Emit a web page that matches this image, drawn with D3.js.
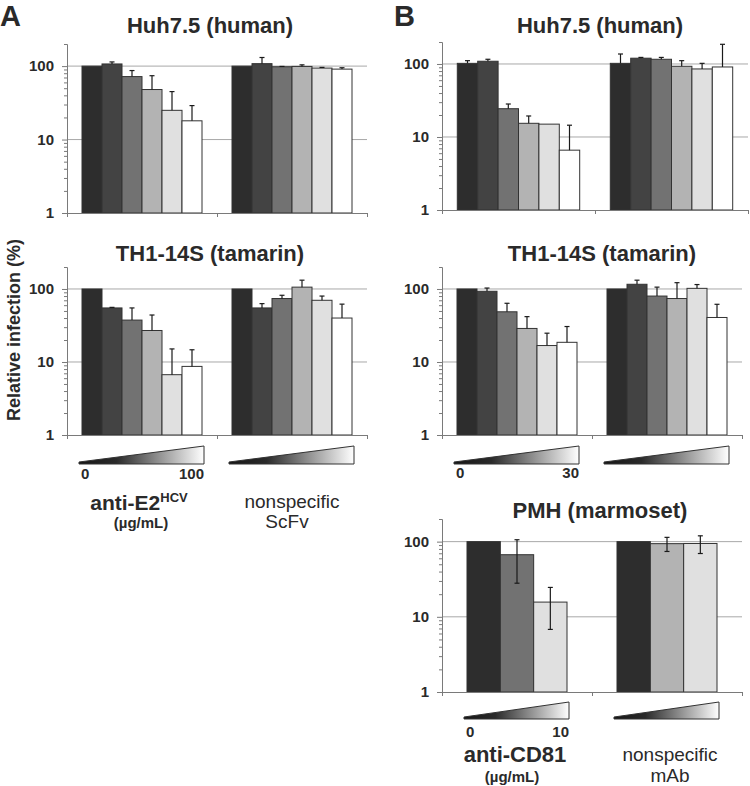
<!DOCTYPE html>
<html><head><meta charset="utf-8">
<script src="https://cdn.jsdelivr.net/npm/d3@7"></script>
<style>body{margin:0;background:#fff} svg{display:block;font-family:"Liberation Sans",Arial,sans-serif}</style>
</head><body>
<svg id="chart" width="750" height="786"></svg>
<script>
// ---------------- DATA ----------------
const groups = ["specific", "nonspecific"];
const doses6 = ["d0", "d1", "d2", "d3", "d4", "d5"];
const doses3 = ["d0", "d1", "d2"];
const yMajorTicks = [1, 10, 100];
const yMinorTicks = [2,3,4,5,6,7,8,9,20,30,40,50,60,70,80,90,200];

// Panel A, Huh7.5 (anti-E2 ScFv / nonspecific ScFv)
const aHuhSpec    = [100, 107, 72, 48, 25, 18];
const aHuhSpecErr = [0, 7, 15, 26, 20, 11];
const aHuhNon     = [100, 108, 98, 99, 94, 91];
const aHuhNonErr  = [0, 23, 1, 5, 2, 4];
// Panel A, TH1-14S
const aThSpec     = [100, 55, 37.5, 27, 6.7, 8.7];
const aThSpecErr  = [0, 1, 17.5, 17, 8.4, 6];
const aThNon      = [100, 55, 74, 106, 70, 40];
const aThNonErr   = [0, 8, 8, 26, 10, 22];
// Panel B, Huh7.5 (anti-CD81 / nonspecific mAb)
const bHuhSpec    = [102, 109, 24.4, 15.4, 15, 6.6];
const bHuhSpecErr = [9, 7, 3.9, 4, 0, 7.9];
const bHuhNon     = [102, 120, 116, 93, 85.5, 91];
const bHuhNonErr  = [35, 3, 7, 18, 16.5, 95];
// Panel B, TH1-14S
const bThSpec     = [100, 93, 48.7, 28.8, 16.8, 18.6];
const bThSpecErr  = [0, 10, 15, 13, 8, 12];
const bThNon      = [100, 116, 80, 74, 102, 40.7];
const bThNonErr   = [0, 16, 26, 48, 13, 21];
// Panel B, PMH (marmoset)
const pmhSpec     = [100, 67, 15.7];
const pmhSpecErr  = [0, 39, 8.9];
const pmhNon      = [100, 94, 94.5];
const pmhNonErr   = [0, 20, 25];

const titles = ["Huh7.5 (human)", "TH1-14S (tamarin)", "Huh7.5 (human)", "TH1-14S (tamarin)", "PMH (marmoset)"];
const doseMaxLabels = ["100", "30", "10"];

// ---------------- STYLE ----------------
const shades6 = ["#2d2d2d", "#434343", "#727272", "#b3b3b3", "#e0e0e0", "#ffffff"];
const pmhSpecShades = ["#2d2d2d", "#727272", "#e0e0e0"];
const pmhNonShades  = ["#2d2d2d", "#b3b3b3", "#e0e0e0"];
const textColor = "#2a2a2a";

const svg = d3.select("#chart");
const defs = svg.append("defs");
const grad = defs.append("linearGradient").attr("id", "wedge").attr("x1", "0%").attr("x2", "100%").attr("y1", "0%").attr("y2", "0%");
grad.append("stop").attr("offset", "0%").attr("stop-color", "#151515");
grad.append("stop").attr("offset", "30%").attr("stop-color", "#2a2a2a");
grad.append("stop").attr("offset", "100%").attr("stop-color", "#ffffff");

const panels = [
  {title: titles[0], x0: 67,  x1: 367, yB: 213, yT: 44,  tx: 210, ty: 33,  doses: doses6, values: [aHuhSpec, aHuhNon], errs: [aHuhSpecErr, aHuhNonErr], colors: [shades6, shades6], two: false, pi: 0.2, po: 0.1},
  {title: titles[1], x0: 67,  x1: 367, yB: 435, yT: 267, tx: 210, ty: 261, doses: doses6, values: [aThSpec, aThNon],   errs: [aThSpecErr, aThNonErr],   colors: [shades6, shades6], two: false, pi: 0.2, po: 0.1,
   wedge: {yb: 464, yt: 446, max: doseMaxLabels[0], ly: 479}},
  {title: titles[2], x0: 442, x1: 748, yB: 210, yT: 42,  tx: 600, ty: 33,  doses: doses6, values: [bHuhSpec, bHuhNon], errs: [bHuhSpecErr, bHuhNonErr], colors: [shades6, shades6], two: false, pi: 0.2, po: 0.1},
  {title: titles[3], x0: 442, x1: 742, yB: 435, yT: 267, tx: 602, ty: 261, doses: doses6, values: [bThSpec, bThNon],   errs: [bThSpecErr, bThNonErr],   colors: [shades6, shades6], two: false, pi: 0.2, po: 0.1,
   wedge: {yb: 464, yt: 446, max: doseMaxLabels[1], ly: 478}},
  {title: titles[4], x0: 442, x1: 742, yB: 692, yT: 519, tx: 600, ty: 518, doses: doses3, values: [pmhSpec, pmhNon],   errs: [pmhSpecErr, pmhNonErr],   colors: [pmhSpecShades, pmhNonShades], two: true, pi: 1/3, po: 1/6,
   wedge: {yb: 719, yt: 702, max: doseMaxLabels[2], ly: 737}}
];

panels.forEach(p => {
  const g = svg.append("g");
  const y = d3.scaleLog().domain([1, 200]).range([p.yB, p.yT]);
  const xg = d3.scaleBand().domain(groups).range([p.x0, p.x1]).paddingInner(p.pi).paddingOuter(p.po);
  const xb = d3.scaleBand().domain(p.doses).range([0, xg.bandwidth()]);
  const xs = d3.scaleLinear().domain([0, groups.length]).range([p.x0, p.x1]);

  g.append("text").attr("x", p.tx).attr("y", p.ty).attr("text-anchor", "middle")
    .attr("font-size", 22).attr("font-weight", "bold").attr("fill", textColor).text(p.title);

  g.selectAll(".grid").data([10, 100]).join("line")
    .attr("x1", p.x0).attr("x2", p.x1).attr("y1", d => y(d)).attr("y2", d => y(d))
    .attr("stroke", "#a8a8a8").attr("stroke-width", 1);

  groups.forEach((grp, gi) => {
    const vals = p.values[gi], errs = p.errs[gi], cols = p.colors[gi];
    g.append("g").selectAll("rect").data(vals).join("rect")
      .attr("x", (d, i) => xg(grp) + xb(p.doses[i]))
      .attr("y", d => y(d))
      .attr("width", xb.bandwidth())
      .attr("height", d => y(1) - y(d))
      .attr("fill", (d, i) => cols[i])
      .attr("stroke", "#333").attr("stroke-width", 1);
    const eg = g.append("g").attr("stroke", "#1a1a1a").attr("stroke-width", 1.2);
    vals.forEach((v, i) => {
      const e = errs[i];
      if (!e) return;
      const cx = xg(grp) + xb(p.doses[i]) + xb.bandwidth() / 2;
      const top = y(v + e);
      const bot = p.two ? y(v - e) : y(v);
      eg.append("line").attr("x1", cx).attr("x2", cx).attr("y1", top).attr("y2", bot);
      eg.append("line").attr("x1", cx - 2.5).attr("x2", cx + 2.5).attr("y1", top).attr("y2", top);
      if (p.two) eg.append("line").attr("x1", cx - 2.5).attr("x2", cx + 2.5).attr("y1", bot).attr("y2", bot);
    });
  });

  const ya = g.append("g").attr("transform", `translate(${p.x0},0)`)
    .call(d3.axisLeft(y).tickValues(yMajorTicks).tickFormat(d3.format("d")).tickSize(5).tickPadding(8).tickSizeOuter(0));
  ya.selectAll("text").attr("font-size", 15).attr("font-weight", "bold").attr("fill", textColor)
    .attr("font-family", "Liberation Sans, Arial, sans-serif");
  const ym = g.append("g").attr("transform", `translate(${p.x0},0)`)
    .call(d3.axisLeft(y).tickValues(yMinorTicks).tickFormat("").tickSize(3).tickSizeOuter(0));
  [ya, ym].forEach(a => { a.selectAll("path,line").attr("stroke", "#7a7a7a"); });

  const xa = g.append("g").attr("transform", `translate(0,${p.yB})`)
    .call(d3.axisBottom(xs).tickValues(d3.range(groups.length + 1)).tickFormat("").tickSize(4).tickSizeOuter(0));
  xa.selectAll("path,line").attr("stroke", "#7a7a7a");

  if (p.wedge) {
    const w = p.wedge;
    groups.forEach(grp => {
      const l = xg(grp) - 3, r = xg(grp) + xg.bandwidth() + 2;
      g.append("polygon")
        .attr("points", [[l, w.yb], [l, w.yb - 2], [r, w.yt], [r, w.yb]].map(q => q.join(",")).join(" "))
        .attr("fill", "url(#wedge)").attr("stroke", "#333").attr("stroke-width", 1);
    });
    const l0 = xg(groups[0]) - 1, r0 = xg(groups[0]) + xg.bandwidth() + 2;
    g.append("text").attr("x", l0).attr("y", w.ly).attr("font-size", 15).attr("font-weight", "bold").attr("fill", textColor).text("0");
    g.append("text").attr("x", r0).attr("y", w.ly).attr("text-anchor", "end").attr("font-size", 15).attr("font-weight", "bold").attr("fill", textColor).text(w.max);
  }
});

svg.append("text").attr("x", 0).attr("y", 26).attr("font-size", 29).attr("font-weight", "bold").attr("fill", textColor).text("A");
svg.append("text").attr("x", 394).attr("y", 26).attr("font-size", 29).attr("font-weight", "bold").attr("fill", textColor).text("B");

svg.append("text").attr("transform", "translate(20,330) rotate(-90)").attr("text-anchor", "middle")
  .attr("font-size", 18).attr("font-weight", "bold").attr("fill", textColor).text("Relative infection (%)");

const t1 = svg.append("text").attr("x", 139).attr("y", 510).attr("text-anchor", "middle").attr("font-size", 21).attr("font-weight", "bold").attr("fill", textColor);
t1.append("tspan").text("anti-E2");
t1.append("tspan").attr("font-size", 13).attr("dy", -8).text("HCV");
svg.append("text").attr("x", 141).attr("y", 528).attr("text-anchor", "middle").attr("font-size", 15).attr("font-weight", "bold").attr("fill", textColor).text("(µg/mL)");
svg.append("text").attr("x", 292).attr("y", 508).attr("text-anchor", "middle").attr("font-size", 19).attr("fill", textColor).text("nonspecific");
svg.append("text").attr("x", 287).attr("y", 528).attr("text-anchor", "middle").attr("font-size", 19).attr("fill", textColor).text("ScFv");

svg.append("text").attr("x", 515).attr("y", 762).attr("text-anchor", "middle").attr("font-size", 22).attr("font-weight", "bold").attr("fill", textColor).text("anti-CD81");
svg.append("text").attr("x", 512).attr("y", 782).attr("text-anchor", "middle").attr("font-size", 15).attr("font-weight", "bold").attr("fill", textColor).text("(µg/mL)");
svg.append("text").attr("x", 670).attr("y", 761).attr("text-anchor", "middle").attr("font-size", 19).attr("fill", textColor).text("nonspecific");
svg.append("text").attr("x", 670).attr("y", 782).attr("text-anchor", "middle").attr("font-size", 19).attr("fill", textColor).text("mAb");
</script>
</body></html>
